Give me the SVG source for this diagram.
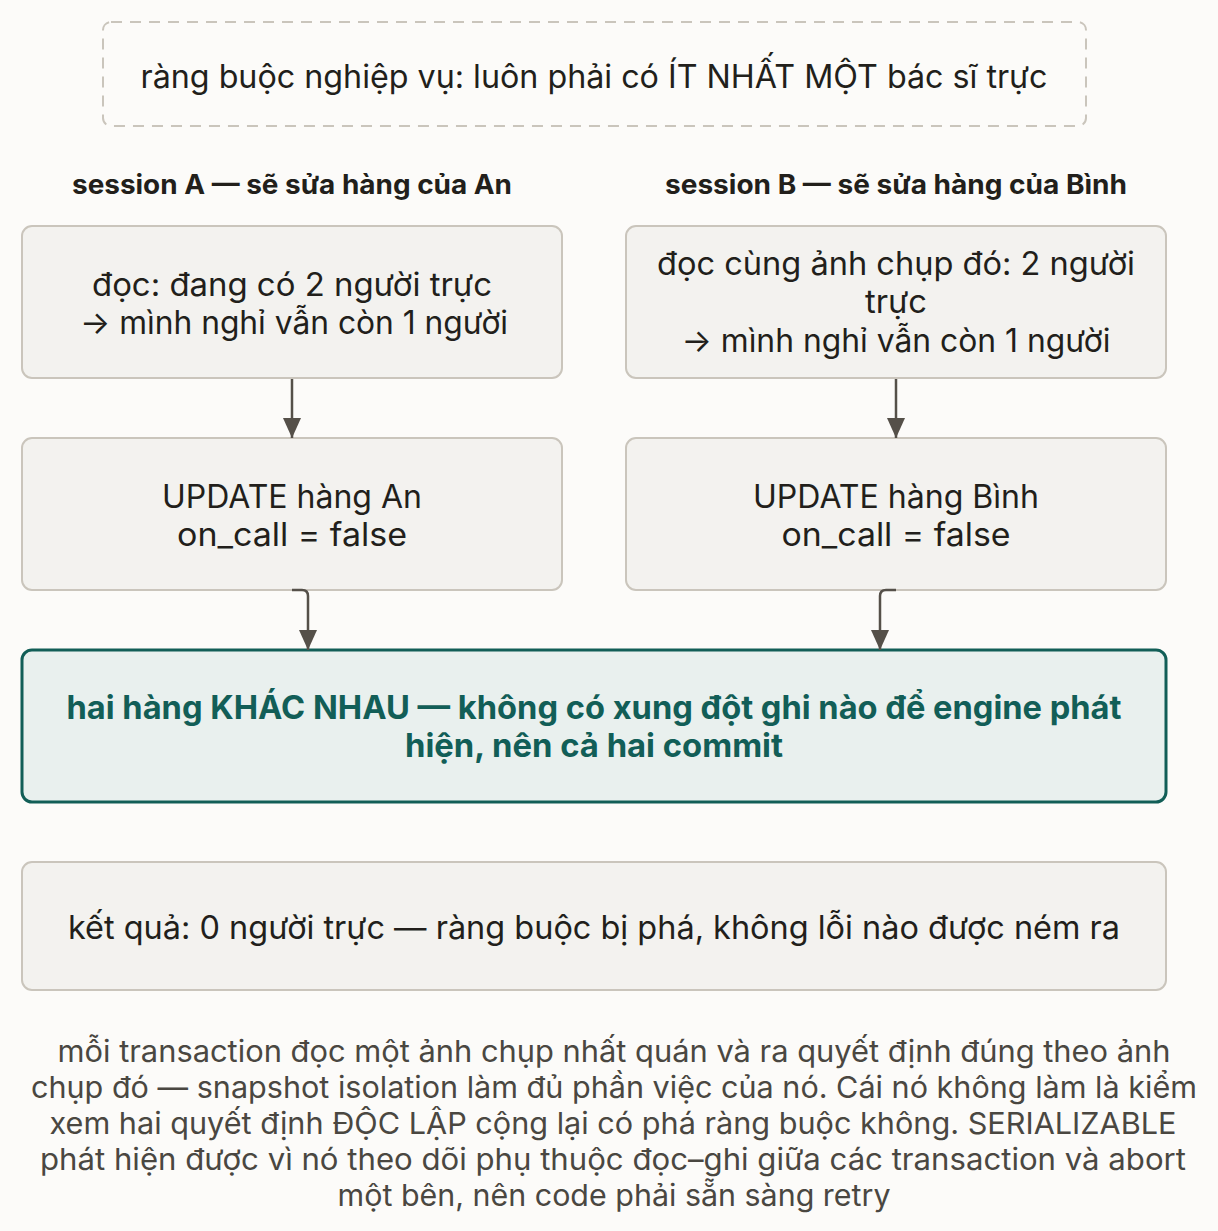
<svg xmlns="http://www.w3.org/2000/svg" width="1218" height="1231" viewBox="0 0 1218 1231">
<defs>
<marker id="ah" viewBox="0 0 20 18" refX="20" refY="9" markerWidth="20" markerHeight="18" markerUnits="userSpaceOnUse" orient="auto">
<path d="M0,0 L20,9 L0,18 Z" fill="#555049"/>
</marker>
</defs>
<style>
.bg{fill:#fcfbf9}
.box{fill:#f3f2ef;stroke:#cac5bc;stroke-width:2}
.dash{fill:none;stroke:#cac5bc;stroke-width:2;stroke-dasharray:11 8}
.hl{fill:#e9f0ee;stroke:#125e57;stroke-width:3}
.t{font-family:Inter,"Noto Sans",sans-serif;font-size:32px;fill:#221f1b;text-anchor:middle}
.h{font-family:Inter,"Noto Sans",sans-serif;font-size:27px;font-weight:700;fill:#221f1b;text-anchor:middle}
.ht{font-family:Inter,"Noto Sans",sans-serif;font-size:32px;font-weight:700;fill:#125e57;text-anchor:middle}
.n{font-family:Inter,"Noto Sans",sans-serif;font-size:30px;fill:#4a4741;text-anchor:middle}
.c{fill:none;stroke:#555049;stroke-width:2.5}
</style>
<rect class="bg" x="0" y="0" width="1218" height="1231"/>
<g id="constraint">
<rect class="dash" x="103" y="22" width="983" height="104" rx="8"/>
<text class="t" x="594" y="88" textLength="907" lengthAdjust="spacingAndGlyphs">ràng buộc nghiệp vụ: luôn phải có ÍT NHẤT MỘT bác sĩ trực</text>
</g>
<g id="labelA"><text class="h" x="292" y="194" textLength="440" lengthAdjust="spacingAndGlyphs">session A — sẽ sửa hàng của An</text></g>
<g id="labelB"><text class="h" x="896" y="194" textLength="462" lengthAdjust="spacingAndGlyphs">session B — sẽ sửa hàng của Bình</text></g>
<g id="readA">
<rect class="box" x="22" y="226" width="540" height="152" rx="10"/>
<text class="t" x="292" y="296" textLength="400" lengthAdjust="spacingAndGlyphs">đọc: đang có 2 người trực</text>
<text class="t" x="294" y="334" textLength="428" lengthAdjust="spacingAndGlyphs">→ mình nghỉ vẫn còn 1 người</text>
</g>
<g id="readB">
<rect class="box" x="626" y="226" width="540" height="152" rx="10"/>
<text class="t" x="896" y="275" textLength="478" lengthAdjust="spacingAndGlyphs">đọc cùng ảnh chụp đó: 2 người</text>
<text class="t" x="896" y="313" textLength="62" lengthAdjust="spacingAndGlyphs">trực</text>
<text class="t" x="896" y="352" textLength="429" lengthAdjust="spacingAndGlyphs">→ mình nghỉ vẫn còn 1 người</text>
</g>
<g id="updA">
<rect class="box" x="22" y="438" width="540" height="152" rx="10"/>
<text class="t" x="292" y="508" textLength="260" lengthAdjust="spacingAndGlyphs">UPDATE hàng An</text>
<text class="t" x="292" y="546" textLength="230" lengthAdjust="spacingAndGlyphs">on_call = false</text>
</g>
<g id="updB">
<rect class="box" x="626" y="438" width="540" height="152" rx="10"/>
<text class="t" x="896" y="508" textLength="286" lengthAdjust="spacingAndGlyphs">UPDATE hàng Bình</text>
<text class="t" x="896" y="546" textLength="229" lengthAdjust="spacingAndGlyphs">on_call = false</text>
</g>
<g id="commit">
<rect class="hl" x="22" y="650" width="1144" height="152" rx="10"/>
<text class="ht" x="594" y="719" textLength="1055" lengthAdjust="spacingAndGlyphs">hai hàng KHÁC NHAU — không có xung đột ghi nào để engine phát</text>
<text class="ht" x="594" y="757" textLength="378" lengthAdjust="spacingAndGlyphs">hiện, nên cả hai commit</text>
</g>
<g id="result">
<rect class="box" x="22" y="862" width="1144" height="128" rx="10"/>
<text class="t" x="594" y="939" textLength="1052" lengthAdjust="spacingAndGlyphs">kết quả: 0 người trực — ràng buộc bị phá, không lỗi nào được ném ra</text>
</g>
<g id="note">
<text class="n" x="614" y="1062" textLength="1113" lengthAdjust="spacingAndGlyphs">mỗi transaction đọc một ảnh chụp nhất quán và ra quyết định đúng theo ảnh</text>
<text class="n" x="614" y="1098" textLength="1166" lengthAdjust="spacingAndGlyphs">chụp đó — snapshot isolation làm đủ phần việc của nó. Cái nó không làm là kiểm</text>
<text class="n" x="613" y="1134" textLength="1127" lengthAdjust="spacingAndGlyphs">xem hai quyết định ĐỘC LẬP cộng lại có phá ràng buộc không. SERIALIZABLE</text>
<text class="n" x="613" y="1170" textLength="1146" lengthAdjust="spacingAndGlyphs">phát hiện được vì nó theo dõi phụ thuộc đọc–ghi giữa các transaction và abort</text>
<text class="n" x="614" y="1206" textLength="553" lengthAdjust="spacingAndGlyphs">một bên, nên code phải sẵn sàng retry</text>
</g>
<g id="connectors">
<path class="c" d="M292,379 L292,438" marker-end="url(#ah)"/>
<path class="c" d="M896,379 L896,438" marker-end="url(#ah)"/>
<path class="c" d="M292,590 L302,590 Q308,590 308,596 L308,650" marker-end="url(#ah)"/>
<path class="c" d="M896,590 L886,590 Q880,590 880,596 L880,650" marker-end="url(#ah)"/>
</g>
</svg>
